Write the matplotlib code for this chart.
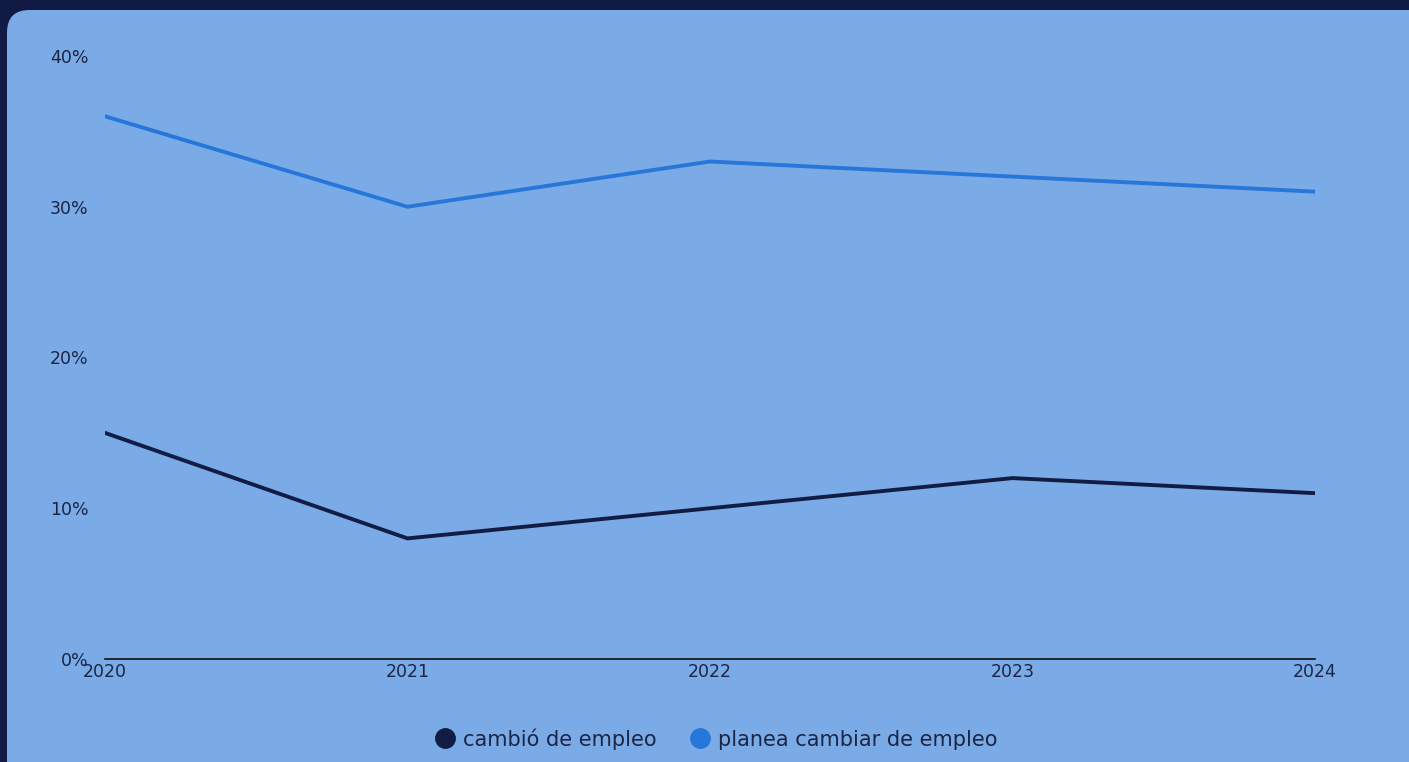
import numpy as np
import matplotlib.pyplot as plt
from matplotlib.patches import FancyBboxPatch
from matplotlib.lines import Line2D

years = [2020, 2021, 2022, 2023, 2024]
cambio = [15, 8, 10, 12, 11]
planea = [36, 30, 33, 32, 31]
labels = ['cambió de empleo', 'planea cambiar de empleo']

bg = '#111a45'
panel = '#7aabe6'
dark = '#121c44'
blue = '#2677d9'
txt = '#1c2545'

W, H = 1409, 762
fig = plt.figure(figsize=(W / 100, H / 100), dpi=100, facecolor=bg)

# rounded light panel, runs off the right and bottom edges
x0, y0 = 7 / W, 10 / H
box = FancyBboxPatch((x0, -0.1), 1.1 - x0, 1 - y0 + 0.1,
                     boxstyle='round,pad=0,rounding_size=0.016',
                     transform=fig.transFigure, facecolor=panel,
                     edgecolor='none', zorder=-10,
                     mutation_aspect=W / H)
fig.patches.append(box)

ax = fig.add_axes([105 / W, 1 - 659 / H, 1210 / W, 603 / H])
ax.set_facecolor('none')

ax.plot(years, planea, color=blue, lw=2.8, solid_joinstyle='miter', zorder=3)
ax.plot(years, cambio, color=dark, lw=2.8, solid_joinstyle='miter', zorder=3)

ax.set_xlim(2020, 2024)
ax.set_ylim(0, 40)
ax.set_xticks(years)
ax.set_xticklabels([str(y) for y in years])
ax.set_yticks([0, 10, 20, 30, 40])
ax.set_yticklabels([f'{v}%' for v in [0, 10, 20, 30, 40]])

for s in ['top', 'right', 'left']:
    ax.spines[s].set_visible(False)
ax.spines['bottom'].set_color('#111111')
ax.spines['bottom'].set_linewidth(1.2)
ax.tick_params(axis='both', length=0, labelsize=12.5, labelcolor=txt)
ax.tick_params(axis='y', pad=12)
ax.tick_params(axis='x', pad=3)

handles = [Line2D([], [], marker='o', ls='none', markersize=14, color=dark),
           Line2D([], [], marker='o', ls='none', markersize=14, color=blue)]
leg = fig.legend(handles, labels, loc='center', bbox_to_anchor=(717 / W, 1 - 739 / H),
                 ncol=2, frameon=False, fontsize=15, handletextpad=0.45,
                 columnspacing=1.7, handlelength=0.8)
for t in leg.get_texts():
    t.set_color(txt)

fig.savefig('out.png', dpi=100, facecolor=bg)
